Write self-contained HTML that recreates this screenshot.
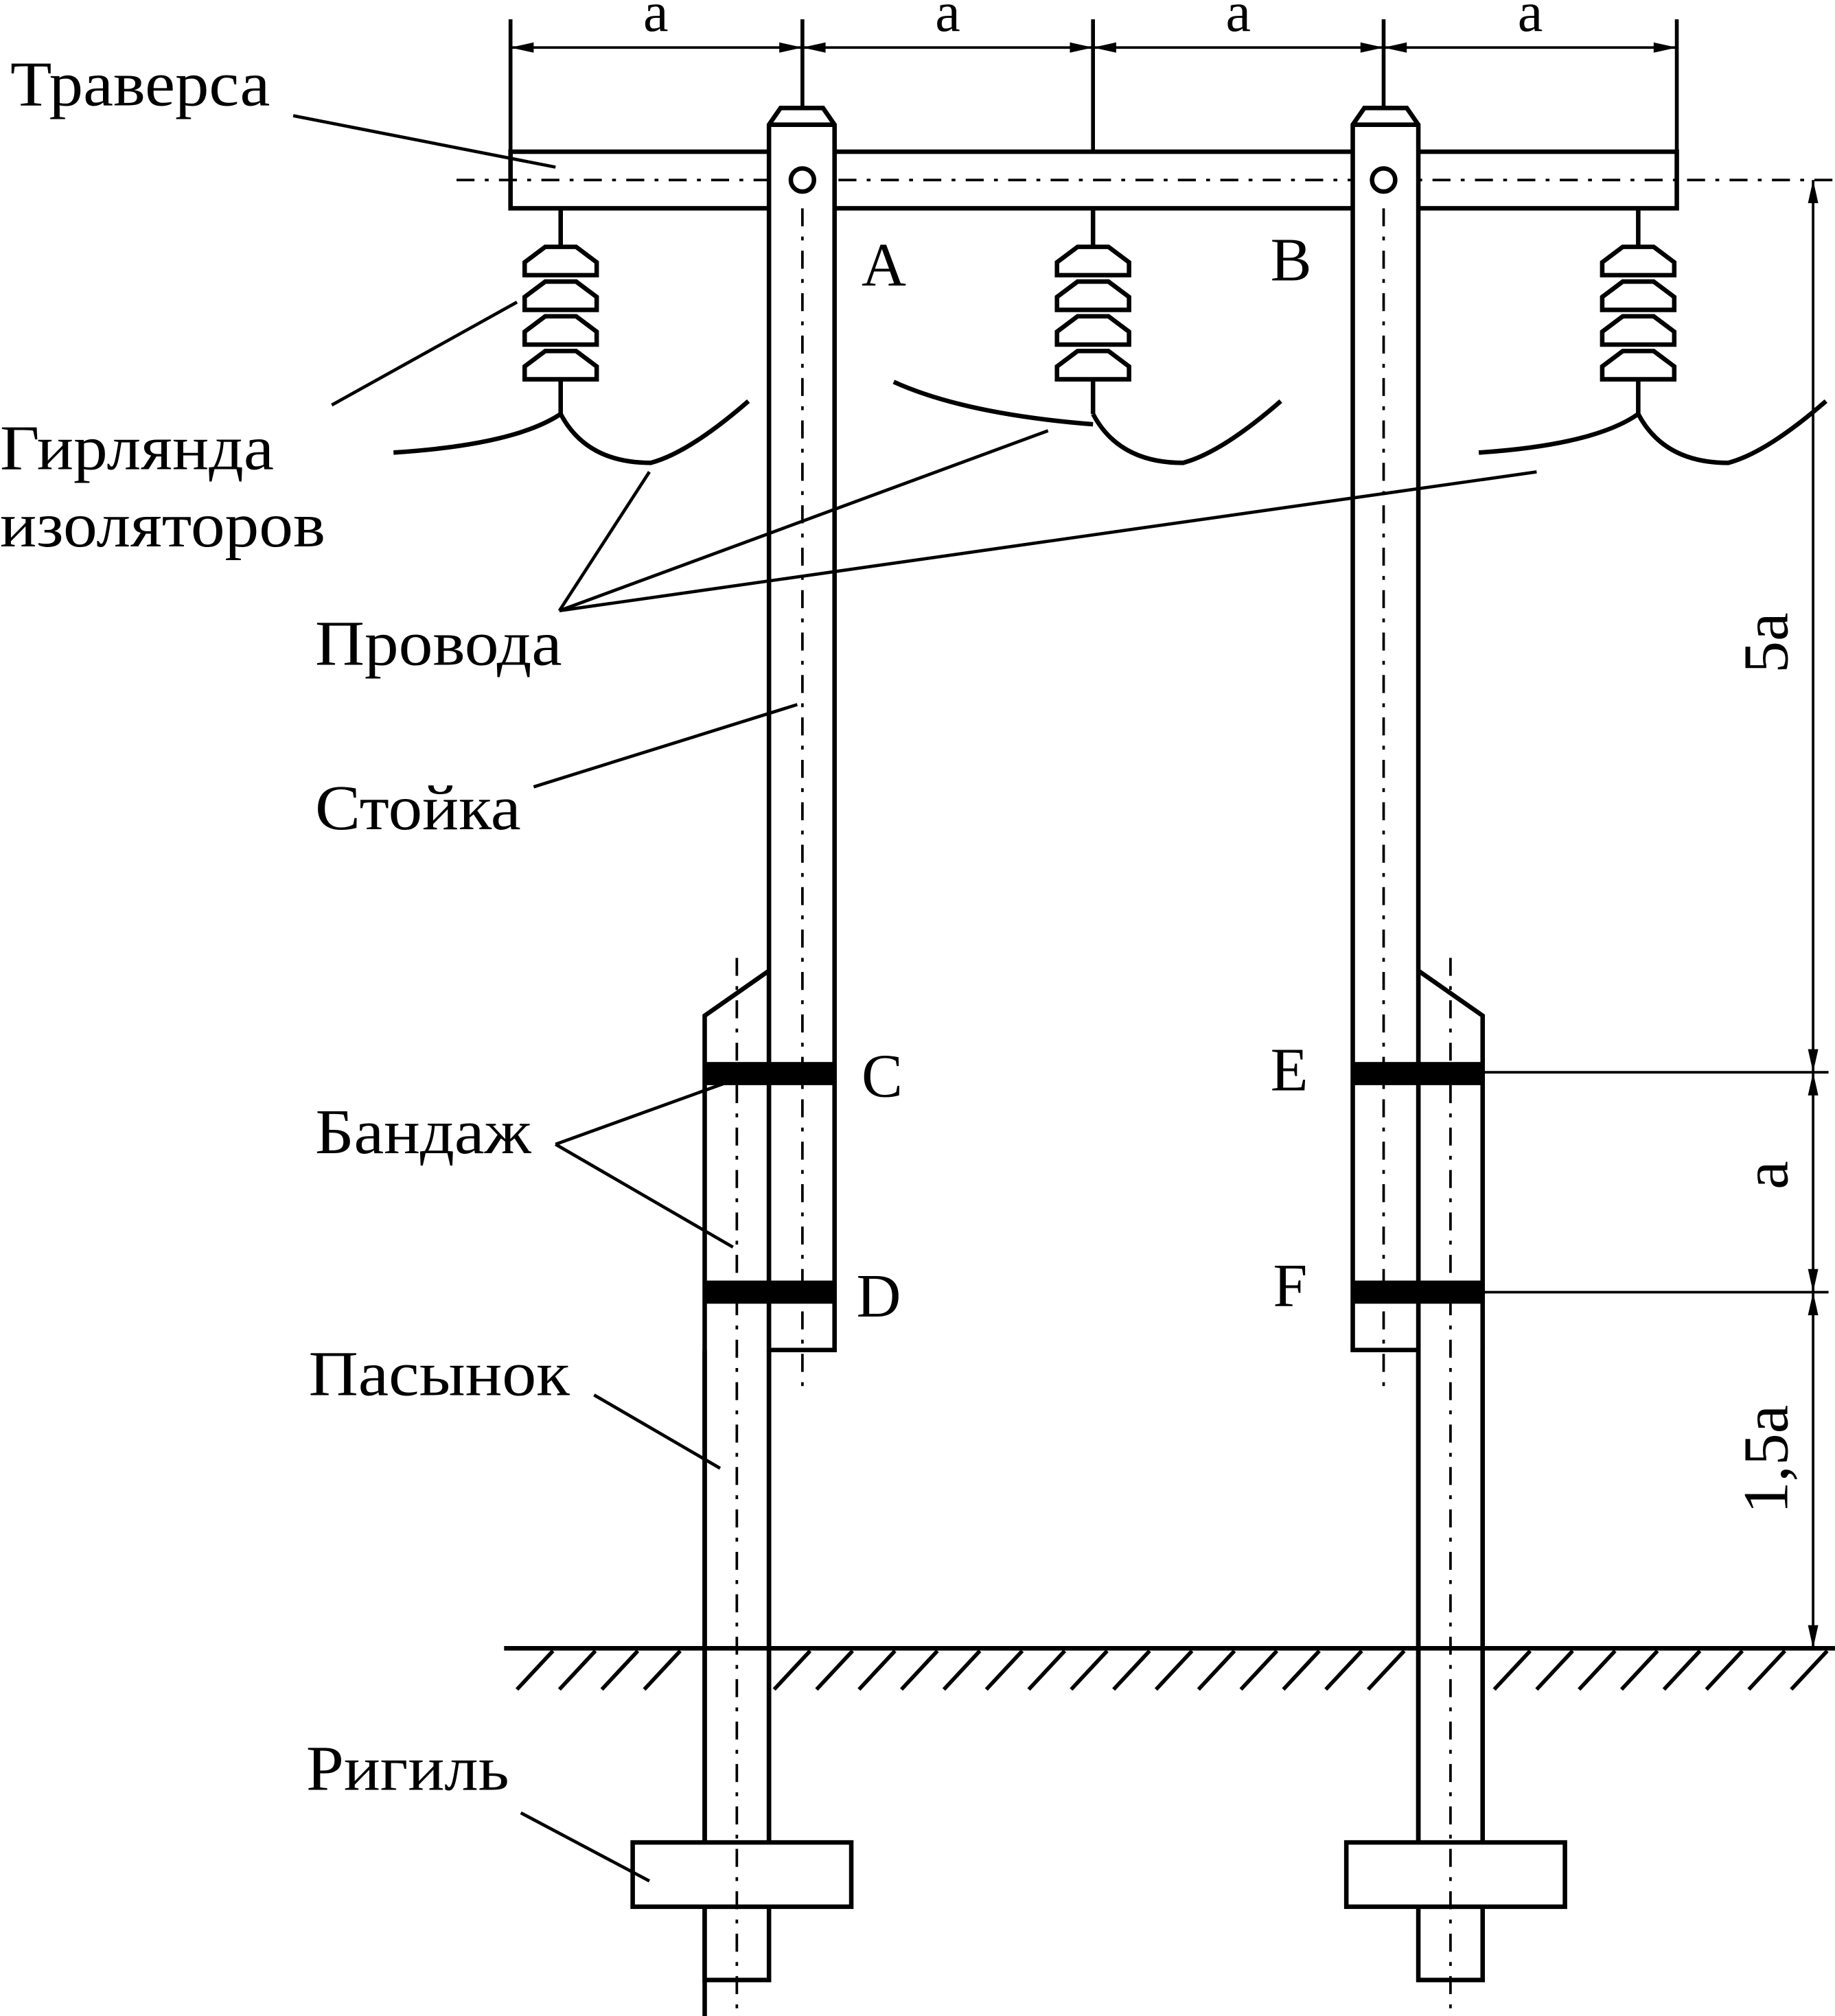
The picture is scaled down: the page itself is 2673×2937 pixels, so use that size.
<!DOCTYPE html>
<html><head><meta charset="utf-8">
<style>
html,body{margin:0;padding:0;background:#fff;}
svg{display:block;}
text{font-family:"Liberation Serif",serif;fill:#000;}
</style></head><body>
<svg width="2673" height="2937" viewBox="0 0 1427 1568" xmlns="http://www.w3.org/2000/svg">
<defs>
<g id="ins">
 <line x1="0" y1="162" x2="0" y2="192" stroke="#000" stroke-width="3.5"/>
 <polygon points="-12,192 12,192 28,204 28,214 -28,214 -28,204" fill="#fff" stroke="#000" stroke-width="3.5"/>
 <polygon points="-12,219 12,219 28,231 28,241 -28,241 -28,231" fill="#fff" stroke="#000" stroke-width="3.5"/>
 <polygon points="-12,246 12,246 28,258 28,268 -28,268 -28,258" fill="#fff" stroke="#000" stroke-width="3.5"/>
 <polygon points="-12,273 12,273 28,285 28,295 -28,295 -28,285" fill="#fff" stroke="#000" stroke-width="3.5"/>
 <line x1="0" y1="295" x2="0" y2="322" stroke="#000" stroke-width="3.5"/>
 <path d="M0,322 Q20,360 70,360 Q100,352 146,312" fill="none" stroke="#000" stroke-width="3.5"/>
</g>
<g id="hatch">
 <line x1="0" y1="0" x2="-28" y2="30" stroke="#000" stroke-width="3"/>
</g>
</defs>

<g stroke="#000" stroke-width="3" fill="none">
<line x1="397" y1="15" x2="397" y2="118"/>
<line x1="624" y1="15" x2="624" y2="85"/>
<line x1="850" y1="15" x2="850" y2="118"/>
<line x1="1076" y1="15" x2="1076" y2="85"/>
<line x1="1304" y1="15" x2="1304" y2="118"/>
<line x1="397" y1="37" x2="1304" y2="37" stroke-width="2"/>
</g>
<g fill="#000">
<polygon points="397,37 415,33 415,41"/><polygon points="624,37 606,33 606,41"/>
<polygon points="624,37 642,33 642,41"/><polygon points="850,37 832,33 832,41"/>
<polygon points="850,37 868,33 868,41"/><polygon points="1076,37 1058,33 1058,41"/>
<polygon points="1076,37 1094,33 1094,41"/><polygon points="1304,37 1286,33 1286,41"/>
</g>
<text x="510" y="24" font-size="44" text-anchor="middle">a</text>
<text x="737" y="24" font-size="44" text-anchor="middle">a</text>
<text x="963" y="24" font-size="44" text-anchor="middle">a</text>
<text x="1190" y="24" font-size="44" text-anchor="middle">a</text>

<rect x="397" y="118" width="907" height="44" fill="#fff" stroke="#000" stroke-width="3.5"/>
<line x1="355" y1="140" x2="1427" y2="140" stroke="#000" stroke-width="2" stroke-dasharray="14,8,3,8"/>

<use href="#ins" x="436"/>
<use href="#ins" x="850"/>
<use href="#ins" x="1274"/>
<g fill="none" stroke="#000" stroke-width="3.5">
<path d="M306,352 Q400,346 436,322"/>
<path d="M695,297 Q750,322 850,330"/>
<path d="M1150,352 Q1240,346 1274,322"/>
</g>

<g stroke="#000" stroke-width="3.5" fill="#fff">
<path d="M548,1568 L548,790 L598,755 L598,1433"/>
<rect x="548" y="1483" width="50" height="57"/>
<path d="M1153,1433 L1153,790 L1103,755 L1103,1433"/>
<rect x="1103" y="1483" width="50" height="57"/>
<polygon points="598,1050 598,97 607,84 640,84 649,97 649,1050"/>
<polygon points="1052,1050 1052,97 1061,84 1094,84 1103,97 1103,1050"/>
<line x1="598" y1="97" x2="649" y2="97"/>
<line x1="1052" y1="97" x2="1103" y2="97"/>
<circle cx="624" cy="140" r="9"/>
<circle cx="1076" cy="140" r="9"/>
<rect x="492" y="1433" width="170" height="50"/>
<rect x="1047" y="1433" width="170" height="50"/>
</g>
<g stroke="#000" stroke-width="3.5">
<line x1="548" y1="1050" x2="548" y2="1433"/>
<line x1="598" y1="1050" x2="598" y2="1433"/>
<line x1="1103" y1="1050" x2="1103" y2="1433"/>
<line x1="1153" y1="1050" x2="1153" y2="1433"/>
</g>
<g stroke="#000" stroke-width="2" stroke-dasharray="14,8,3,8">
<line x1="624" y1="162" x2="624" y2="1082"/>
<line x1="1076" y1="162" x2="1076" y2="1082"/>
<line x1="573" y1="745" x2="573" y2="1568"/>
<line x1="1128" y1="745" x2="1128" y2="1568"/>
</g>
<g fill="#000">
<rect x="548" y="826" width="101" height="18"/>
<rect x="548" y="996" width="101" height="18"/>
<rect x="1052" y="826" width="101" height="18"/>
<rect x="1052" y="996" width="101" height="18"/>
</g>

<line x1="392" y1="1282" x2="1427" y2="1282" stroke="#000" stroke-width="3.5"/>
<g>
<use href="#hatch" x="430" y="1284"/><use href="#hatch" x="463" y="1284"/><use href="#hatch" x="496" y="1284"/><use href="#hatch" x="529" y="1284"/>
<use href="#hatch" x="630" y="1284"/><use href="#hatch" x="663" y="1284"/><use href="#hatch" x="696" y="1284"/><use href="#hatch" x="729" y="1284"/><use href="#hatch" x="762" y="1284"/><use href="#hatch" x="795" y="1284"/><use href="#hatch" x="828" y="1284"/><use href="#hatch" x="861" y="1284"/><use href="#hatch" x="894" y="1284"/><use href="#hatch" x="927" y="1284"/><use href="#hatch" x="960" y="1284"/><use href="#hatch" x="993" y="1284"/><use href="#hatch" x="1026" y="1284"/><use href="#hatch" x="1059" y="1284"/><use href="#hatch" x="1092" y="1284"/>
<use href="#hatch" x="1190" y="1284"/><use href="#hatch" x="1223" y="1284"/><use href="#hatch" x="1256" y="1284"/><use href="#hatch" x="1289" y="1284"/><use href="#hatch" x="1322" y="1284"/><use href="#hatch" x="1355" y="1284"/><use href="#hatch" x="1388" y="1284"/><use href="#hatch" x="1421" y="1284"/>
</g>

<g stroke="#000" stroke-width="2">
<line x1="1410" y1="140" x2="1410" y2="1282"/>
<line x1="1153" y1="834" x2="1422" y2="834"/>
<line x1="1153" y1="1005" x2="1422" y2="1005"/>
</g>
<g fill="#000">
<polygon points="1410,140 1406,158 1414,158"/><polygon points="1410,834 1406,816 1414,816"/>
<polygon points="1410,834 1406,852 1414,852"/><polygon points="1410,1005 1406,987 1414,987"/>
<polygon points="1410,1005 1406,1023 1414,1023"/><polygon points="1410,1282 1406,1264 1414,1264"/>
</g>
<text transform="translate(1390,500) rotate(-90)" font-size="50" text-anchor="middle">5a</text>
<text transform="translate(1390,914) rotate(-90)" font-size="50" text-anchor="middle">a</text>
<text transform="translate(1390,1135) rotate(-90)" font-size="50" text-anchor="middle">1,5a</text>

<g stroke="#000" stroke-width="2.5">
<line x1="228" y1="90" x2="432" y2="130"/>
<line x1="258" y1="315" x2="402" y2="235"/>
<line x1="435" y1="475" x2="505" y2="367"/>
<line x1="435" y1="475" x2="815" y2="335"/>
<line x1="435" y1="475" x2="1195" y2="367"/>
<line x1="415" y1="612" x2="620" y2="548"/>
<line x1="432" y1="890" x2="565" y2="842"/>
<line x1="432" y1="890" x2="570" y2="970"/>
<line x1="462" y1="1085" x2="560" y2="1142"/>
<line x1="405" y1="1410" x2="505" y2="1463"/>
</g>

<g font-size="50">
<text x="8" y="82" textLength="202" lengthAdjust="spacingAndGlyphs">Траверса</text>
<text x="0" y="365" textLength="213" lengthAdjust="spacingAndGlyphs">Гирлянда</text>
<text x="0" y="425" textLength="253" lengthAdjust="spacingAndGlyphs">изоляторов</text>
<text x="245" y="517" textLength="192" lengthAdjust="spacingAndGlyphs">Провода</text>
<text x="245" y="645" textLength="160" lengthAdjust="spacingAndGlyphs">Стойка</text>
<text x="245" y="897" textLength="168" lengthAdjust="spacingAndGlyphs">Бандаж</text>
<text x="240" y="1085" textLength="203" lengthAdjust="spacingAndGlyphs">Пасынок</text>
<text x="238" y="1392" textLength="158" lengthAdjust="spacingAndGlyphs">Ригиль</text>
</g>
<g font-size="48">
<text x="670" y="222">A</text>
<text x="988" y="218">B</text>
<text x="670" y="853">C</text>
<text x="666" y="1024">D</text>
<text x="988" y="848">E</text>
<text x="990" y="1016">F</text>
</g>
</svg>
</body></html>
